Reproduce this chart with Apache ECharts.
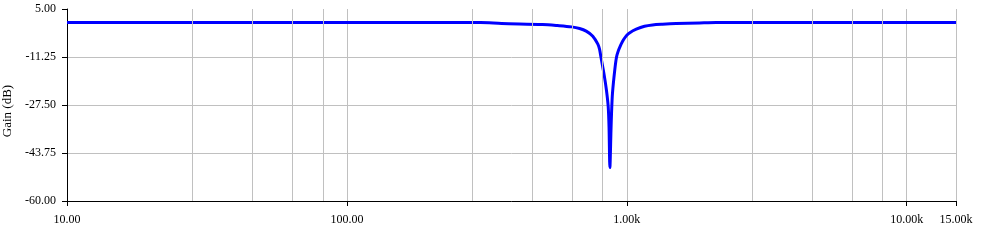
<!DOCTYPE html>
<html><head><meta charset="utf-8">
<script src="https://cdn.jsdelivr.net/npm/echarts@6/dist/echarts.min.js"></script>
<style>html,body{margin:0;padding:0;background:#fff}#c{width:1004px;height:252px}</style>
</head><body><div id="c"></div>
<script>
// Frequency (Hz) and gain (dB)
const freqHz = [10, 100, 200, 300, 357, 500, 565, 635, 678, 716, 756, 788, 799, 808, 830, 846, 858, 864, 870,
                878, 882, 889, 906, 919, 934, 950, 965, 981, 1000, 1022, 1081, 1157, 1235, 1341, 1500, 1820, 2085, 5000, 15000];
const gainDb = [0.4, 0.4, 0.4, 0.4, 0.1, -0.25, -0.6, -1.05, -1.6, -2.5, -4.2, -6.9, -8.6, -11.2, -17.3, -22.6, -28.0, -35.0, -48.7,
                -36.0, -30.2, -23.4, -15.5, -11.25, -9.0, -7.3, -6.0, -4.9, -3.9, -3.1, -1.85, -0.85, -0.4, -0.15, 0.08, 0.28, 0.4, 0.4, 0.4];
const xTickValues = [10, 100, 1000, 10000, 15000];
const yTickValues = [-60, -43.75, -27.5, -11.25, 5];
const xMinorGrid = [28, 46, 64, 82, 280, 460, 640, 820, 2800, 4600, 6400, 8200];

const FONT = '"Liberation Serif", "Times New Roman", serif';
const GRID = '#c0c0c0';

function fmtX(v) {
  if (v >= 1000) return (v / 1000).toFixed(2) + 'k';
  return Number(v).toFixed(2);
}

const chart = echarts.init(document.getElementById('c'), null, {renderer: 'canvas'});
chart.setOption({
  animation: false,
  backgroundColor: '#ffffff',
  grid: {left: 67, right: 48, top: 9, bottom: 51, containLabel: false, outerBoundsMode: 'none'},
  xAxis: {
    type: 'log',
    logBase: 10,
    min: xTickValues[0],
    max: xTickValues[xTickValues.length - 1],
    axisLine: {show: true, onZero: false, lineStyle: {color: '#000', width: 1}},
    axisTick: {show: true, length: 5, lineStyle: {color: '#000'}},
    axisLabel: {color: '#000', fontFamily: FONT, fontSize: 12, margin: 13, formatter: fmtX},
    splitLine: {show: true, lineStyle: {color: GRID, width: 1}},
    minorTick: {show: false},
    minorSplitLine: {show: false}
  },
  yAxis: {
    type: 'value',
    min: yTickValues[0],
    max: yTickValues[yTickValues.length - 1],
    interval: yTickValues[1] - yTickValues[0],
    name: 'Gain (dB)',
    nameLocation: 'middle',
    nameGap: 47,
    nameTextStyle: {color: '#000', fontFamily: FONT, fontSize: 13, padding: [0, 12, 0, 0]},
    axisLine: {show: true, onZero: false, lineStyle: {color: '#000', width: 1}},
    axisTick: {show: true, length: 5, lineStyle: {color: '#000'}},
    axisLabel: {color: '#000', fontFamily: FONT, fontSize: 12, margin: 11, formatter: v => Number(v).toFixed(2)},
    splitLine: {show: true, showMaxLine: false, lineStyle: {color: GRID, width: 1}}
  },
  series: [
    {
      type: 'line',
      data: [],
      z: 1,
      silent: true,
      markLine: {
        silent: true,
        symbol: 'none',
        label: {show: false},
        lineStyle: {color: GRID, type: 'solid', width: 1},
        emphasis: {disabled: true},
        data: xMinorGrid.map(v => ({xAxis: v}))
      }
    },
    {
      type: 'line',
      z: 3,
      data: freqHz.map((f, i) => [f, gainDb[i]]),
      showSymbol: false,
      symbol: 'none',
      smooth: 0.3,
      lineStyle: {color: '#0000ff', width: 3},
      itemStyle: {color: '#0000ff'}
    }
  ]
});
</script></body></html>
